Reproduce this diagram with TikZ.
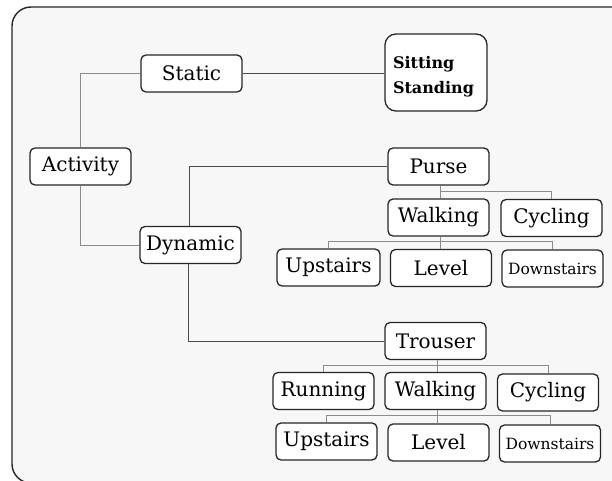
\documentclass[tikz,border=0pt]{standalone}
\usepackage{fontspec}
\setmainfont{DejaVu Serif}
\usetikzlibrary{calc}
\begin{document}
\begin{tikzpicture}[x=1pt,y=-1pt,
  box/.style={draw=black!85, line width=1.3pt, fill=white, rounded corners=5pt, inner sep=0pt,
    minimum width=101pt, minimum height=37pt, font=\fontsize{20}{23}\selectfont},
  smallbox/.style={box, font=\fontsize{15.5}{18}\selectfont},
  lite/.style={draw=black!45, line width=1pt},
  dark/.style={draw=black!70, line width=0.9pt}]
\useasboundingbox (0,0) rectangle (612,481);
\begin{scope}
\clip (0,0) rectangle (612,481);
\draw[draw=black!85, line width=1.4pt, fill=black!3, rounded corners=19pt] (12,7) rectangle (632,483);
\end{scope}

% nodes
\node[box] (activity) at (80.5,166.5) {Activity};
\node[box] (static) at (191.5,73.5) {Static};
\node[box] (dynamic) at (190.5,245) {Dynamic};
\node[draw=black!85, line width=1.3pt, fill=white, rounded corners=11pt, inner xsep=8pt, inner ysep=0pt,
  minimum height=77pt, text width=86pt, align=left, font=\bfseries\fontsize{16}{25}\selectfont]
  (sit) at (436,72.5) {\rule{0pt}{20pt}Sitting\\Standing};

\node[box] (purse) at (438.5,166.5) {Purse};
\node[box] (pwalk) at (438.5,217.5) {Walking};
\node[box] (pcyc) at (551.5,218) {Cycling};
\node[box, minimum width=103pt] (pup) at (328.5,267.5) {Upstairs};
\node[box] (plev) at (441,268) {Level};
\node[smallbox] (pdown) at (552.5,268.5) {Downstairs};

\node[box] (trouser) at (435.5,341) {Trouser};
\node[box] (run) at (323.5,391) {Running};
\node[box] (twalk) at (435.5,391) {Walking};
\node[box] (tcyc) at (548,392.5) {Cycling};
\node[box] (tup) at (326.5,441.5) {Upstairs};
\node[box] (tlev) at (438.5,442.5) {Level};
\node[smallbox] (tdown) at (550,443.5) {Downstairs};

\draw[lite] (activity.north) |- (static.west);
\draw[lite] (activity.south) |- (dynamic.west);
\draw[dark] (static.east) -- (sit.west |- static.east);
\draw[dark] ([xshift=-1.5pt]dynamic.north) |- (purse.west);
\draw[dark] ([xshift=-2.5pt]dynamic.south) |- (trouser.west);

\coordinate (pj) at ([xshift=1.5pt]purse.south);
\draw[lite] (pj) -- (pj |- pwalk.north);
\draw[lite] ($(pj)+(0,6)$) -| (pcyc.north);

\coordinate (wj) at ([xshift=1.5pt]pwalk.south);
\draw[lite] (wj) -- (wj |- plev.north);
\draw[lite] ($(wj)+(0,5)$) -| (pup.north);
\draw[lite] ($(wj)+(0,5)$) -| (pdown.north);

\coordinate (tj) at ([xshift=1.5pt]trouser.south);
\draw[lite] (tj) -- (tj |- twalk.north);
\draw[lite] ($(tj)+(0,5)$) -| (run.north);
\draw[lite] ($(tj)+(0,5)$) -| (tcyc.north);

\coordinate (tw) at ([xshift=1.5pt]twalk.south);
\draw[lite] (tw) -- (tw |- tlev.north);
\draw[lite] ($(tw)+(0,5.5)$) -| (tup.north);
\draw[lite] ($(tw)+(0,5.5)$) -| (tdown.north);
\end{tikzpicture}
\end{document}
